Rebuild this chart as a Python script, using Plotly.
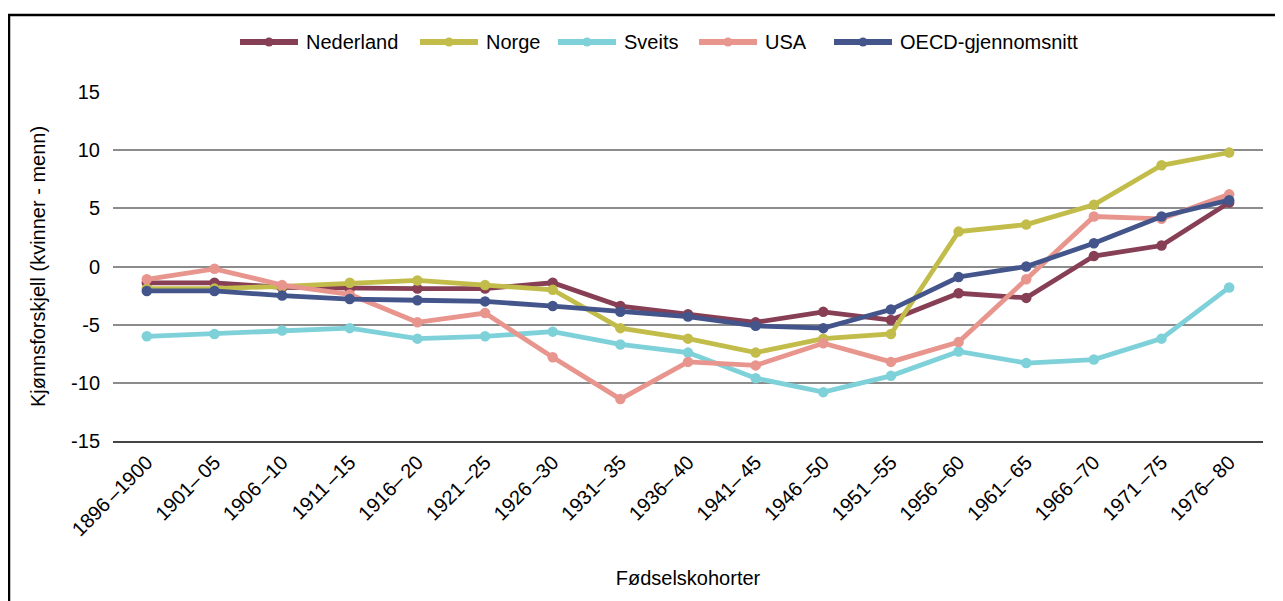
import plotly.graph_objects as go

T = "\u2009"
cohorts = ["1896" + T + "–1900", "1901–" + T + "05", "1906" + T + "–10", "1911" + T + "–15",
           "1916–" + T + "20", "1921" + T + "–25", "1926" + T + "–30", "1931–" + T + "35",
           "1936–" + T + "40", "1941–" + T + "45", "1946" + T + "–50", "1951" + T + "–55",
           "1956" + T + "–60", "1961–" + T + "65", "1966" + T + "–70", "1971" + T + "–75",
           "1976–" + T + "80"]

nederland = [-1.4, -1.4, -1.8, -1.9, -1.9, -1.9, -1.4, -3.4, -4.1, -4.8, -3.9, -4.6, -2.3, -2.7, 0.9, 1.8, 5.5]
norge = [-1.9, -1.9, -1.7, -1.4, -1.2, -1.6, -2.0, -5.3, -6.2, -7.4, -6.2, -5.8, 3.0, 3.6, 5.3, 8.7, 9.8]
sveits = [-6.0, -5.8, -5.5, -5.3, -6.2, -6.0, -5.6, -6.7, -7.4, -9.6, -10.8, -9.4, -7.3, -8.3, -8.0, -6.2, -1.8]
usa = [-1.1, -0.2, -1.6, -2.4, -4.8, -4.0, -7.8, -11.4, -8.2, -8.5, -6.6, -8.2, -6.5, -1.1, 4.3, 4.1, 6.2]
oecd = [-2.1, -2.1, -2.5, -2.8, -2.9, -3.0, -3.4, -3.9, -4.3, -5.1, -5.3, -3.7, -0.9, 0.0, 2.0, 4.3, 5.7]

y_ticks = [-15, -10, -5, 0, 5, 10, 15]
y_tick_labels = ["-15", "-10", "-5", "0", "5", "10", "15"]

series_names = ["Nederland", "Norge", "Sveits", "USA", "OECD-gjennomsnitt"]
series_values = [nederland, norge, sveits, usa, oecd]
colors = ["#873F55", "#C2BD4A", "#7ED1D9", "#E8958E", "#43558A"]

FONT = "Liberation Sans, Arial, sans-serif"
OFF = 8  # page body margin
W, H = 1283, 601
L, R, TOP, BOT = 113 - OFF, 1263 - OFF, 92 - OFF, 441 - OFF


def px_x(p):
    return (p - OFF - L) / (R - L)


def px_y(p):
    return (BOT - (p - OFF)) / (BOT - TOP)


fig = go.Figure()
for name, vals, col in zip(series_names, series_values, colors):
    fig.add_trace(go.Scatter(
        x=cohorts, y=vals, name=name, mode="lines+markers",
        line=dict(color=col, width=4.8),
        marker=dict(color=col, size=10.5),
        showlegend=False,
    ))

# custom legend (page pixel positions)
leg_line_start = [238, 418, 556, 697, 832]
leg_y = 42
shapes = []
annotations = []
for name, col, x0 in zip(series_names, colors, leg_line_start):
    shapes.append(dict(type="line", xref="paper", yref="paper",
                       x0=px_x(x0 + 2), x1=px_x(x0 + 60), y0=px_y(leg_y), y1=px_y(leg_y),
                       line=dict(color=col, width=6)))
    shapes.append(dict(type="circle", xref="paper", yref="paper",
                       xsizemode="pixel", ysizemode="pixel",
                       xanchor=px_x(x0 + 31), yanchor=px_y(leg_y),
                       x0=-4.5, x1=4.5, y0=-4.5, y1=4.5,
                       fillcolor=col, line=dict(color=col, width=0)))
    annotations.append(dict(text=name, xref="paper", yref="paper",
                            x=px_x(x0 + 66), y=px_y(leg_y), xanchor="left", yanchor="middle",
                            showarrow=False, font=dict(family=FONT, size=20, color="black")))

# frame border
shapes.append(dict(type="line", xref="paper", yref="paper", x0=px_x(9), x1=px_x(9),
                   y0=px_y(15), y1=px_y(640), line=dict(color="black", width=2.5)))
shapes.append(dict(type="line", xref="paper", yref="paper", x0=px_x(8), x1=px_x(1320),
                   y0=px_y(15), y1=px_y(15), line=dict(color="black", width=2.5)))

fig.update_layout(
    width=W, height=H,
    margin=dict(l=L, r=W - R, t=TOP, b=H - BOT),
    paper_bgcolor="white", plot_bgcolor="white",
    font=dict(family=FONT, size=20, color="black"),
    showlegend=False,
    xaxis=dict(
        type="category", range=[-0.5, len(cohorts) - 0.5],
        tickangle=-45, showgrid=False, showline=True, linecolor="#444444", linewidth=1.5,
        ticks="", tickfont=dict(family=FONT, size=20, color="black"),
        title=dict(text="Fødselskohorter", font=dict(family=FONT, size=20, color="black"), standoff=32),
        fixedrange=True,
    ),
    yaxis=dict(
        range=[-15, 15], tickvals=y_ticks, ticktext=y_tick_labels,
        showgrid=True, gridcolor="#8C8C8C", gridwidth=1.5, zeroline=False,
        ticks="", ticklabelstandoff=12, tickfont=dict(family=FONT, size=20, color="black"),
        title=dict(text="Kjønnsforskjell (kvinner - menn)", font=dict(family=FONT, size=20, color="black"), standoff=20),
        fixedrange=True,
    ),
    shapes=shapes,
    annotations=annotations,
)

fig.write_html("out.html")
